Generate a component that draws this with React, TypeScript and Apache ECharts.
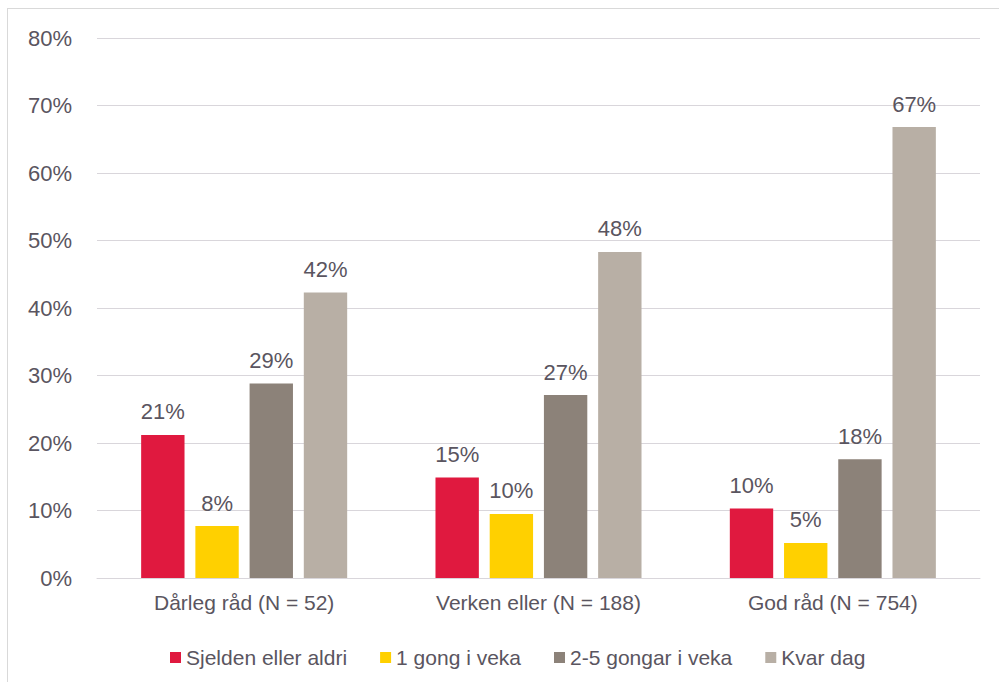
import React, { useEffect, useRef } from "react";
import * as echarts from "echarts";

const categories = ["Dårleg råd (N = 52)", "Verken eller (N = 188)", "God råd (N = 754)"];
const seriesNames = ["Sjelden eller aldri", "1 gong i veka", "2-5 gongar i veka", "Kvar dag"];
const rare = [21.2, 14.9, 10.3];
const once = [7.7, 9.5, 5.2];
const twoFive = [28.8, 27.1, 17.6];
const daily = [42.3, 48.3, 66.8];
const colors = ["#E0193F", "#FFD000", "#8C8279", "#B8AFA5"];

const TEXT = "#5a5560";
const FONT = "Liberation Sans, Arial, sans-serif";

export default function App() {
  const ref = useRef<HTMLDivElement>(null);
  useEffect(() => {
    if (!ref.current) return;
    const chart = echarts.init(ref.current, undefined, { renderer: "svg" });
    const values = [rare, once, twoFive, daily];
    chart.setOption({
      animation: false,
      textStyle: { fontFamily: FONT },
      grid: { left: 89, right: 19, top: 29, bottom: 104, containLabel: false },
      legend: {
        left: 157,
        top: 633,
        itemWidth: 11,
        itemHeight: 11,
        itemGap: 33,
        icon: "rect",
        data: seriesNames,
        textStyle: { color: TEXT, fontSize: 21, fontFamily: FONT },
      },
      xAxis: {
        type: "category",
        data: categories,
        axisLine: { show: true, lineStyle: { color: "#d9d6db", width: 1 } },
        axisTick: { show: false },
        axisLabel: { color: TEXT, fontSize: 21, fontFamily: FONT, margin: 14 },
      },
      yAxis: {
        type: "value",
        min: 0,
        max: 80,
        interval: 10,
        axisLine: { show: false },
        axisTick: { show: false },
        splitLine: { lineStyle: { color: "#d9d6db", width: 1 } },
        axisLabel: {
          color: TEXT,
          fontSize: 22,
          fontFamily: FONT,
          margin: 25,
          formatter: (v: number) => v + "%",
        },
      },
      series: seriesNames.map((name, i) => ({
        name,
        type: "bar",
        data: values[i],
        barCategoryGap: "30%",
        barGap: "25%",
        itemStyle: { color: colors[i] },
        label: {
          show: true,
          position: "top",
          distance: 12,
          color: TEXT,
          fontSize: 22,
          fontFamily: FONT,
          formatter: (p: any) => Math.round(p.value) + "%",
        },
      })),
    });
    return () => chart.dispose();
  }, []);

  return (
    <div
      style={{
        position: "fixed",
        left: 7,
        top: 8,
        width: 992,
        height: 674,
        borderLeft: "1px solid #d9d9d9",
        borderTop: "1px solid #d9d9d9",
        background: "#fff",
        overflow: "hidden",
      }}
    >
      <div ref={ref} style={{ width: 991, height: 673 }} />
    </div>
  );
}
